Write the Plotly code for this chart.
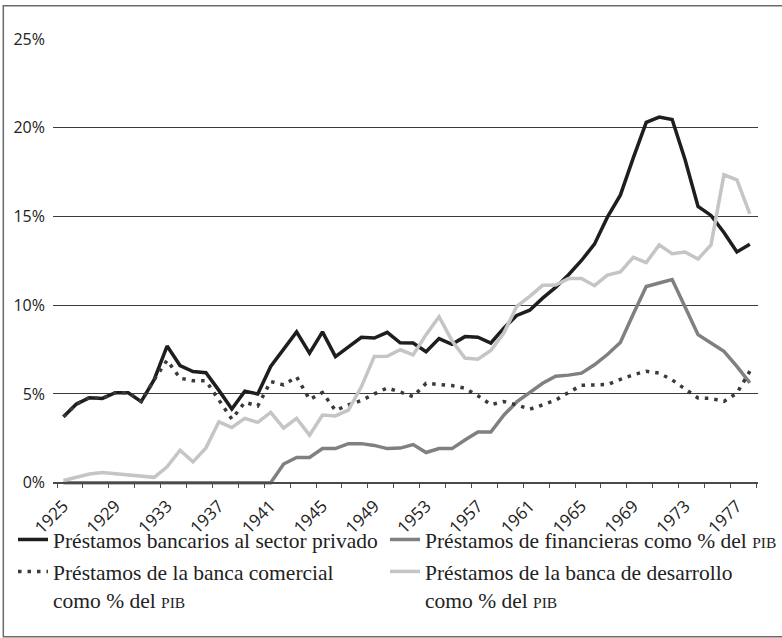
import plotly.graph_objects as go

years = list(range(1925, 1979))

privado = [3.72, 4.43, 4.79, 4.75, 5.07, 5.07, 4.57, 5.8, 7.7, 6.6,
           6.26, 6.2, 5.2, 4.15, 5.15, 5.0, 6.55, 7.55, 8.5, 7.3,
           8.5, 7.1, 7.64, 8.19, 8.15, 8.47, 7.88, 7.87, 7.38, 8.12,
           7.8, 8.23, 8.2, 7.87, 8.71, 9.42, 9.72, 10.4, 11.0, 11.72,
           12.52, 13.44, 14.96, 16.2, 18.3, 20.3, 20.6, 20.46, 18.2, 15.57,
           15.06, 14.1, 13.0, 13.43]

financieras = [0, 0, 0, 0, 0, 0, 0, 0, 0, 0,
               0, 0, 0, 0, 0, 0, 0, 1.05, 1.42, 1.42,
               1.92, 1.92, 2.2, 2.2, 2.1, 1.92, 1.95, 2.15, 1.7, 1.92,
               1.92, 2.4, 2.85, 2.85, 3.8, 4.55, 5.1, 5.6, 6.0, 6.06,
               6.17, 6.64, 7.22, 7.9, 9.5, 11.05, 11.25, 11.45, 9.9, 8.34,
               7.87, 7.4, 6.55, 5.62]

comercial = [3.72, 4.43, 4.79, 4.75, 5.07, 5.07, 4.57, 5.8, 6.9, 5.89,
             5.74, 5.74, 4.66, 3.58, 4.53, 4.32, 5.7, 5.51, 5.96, 4.69,
             5.08, 4.07, 4.38, 4.63, 5.0, 5.34, 5.11, 4.85, 5.6, 5.53,
             5.47, 5.32, 4.9, 4.4, 4.57, 4.38, 4.14, 4.38, 4.65, 5.08,
             5.49, 5.51, 5.53, 5.82, 6.08, 6.28, 6.17, 5.79, 5.28, 4.77,
             4.75, 4.58, 5.04, 6.28]

desarrollo = [0.12, 0.32, 0.49, 0.57, 0.51, 0.45, 0.38, 0.3, 0.89, 1.83,
              1.17, 1.96, 3.43, 3.11, 3.62, 3.4, 3.96, 3.08, 3.62, 2.68,
              3.81, 3.76, 4.09, 5.4, 7.11, 7.12, 7.49, 7.2, 8.34, 9.35,
              8.0, 7.02, 6.96, 7.45, 8.43, 9.94, 10.5, 11.12, 11.14, 11.5,
              11.5, 11.1, 11.7, 11.88, 12.7, 12.4, 13.4, 12.9, 13.0, 12.6,
              13.4, 17.35, 17.06, 15.15]

y_ticks = [0, 5, 10, 15, 20, 25]
y_labels = ["0%", "5%", "10%", "15%", "20%", "25%"]
x_tickvals = list(range(1925, 1978, 4))

PIB = '<span style="font-size:15.5px">PIB</span>'
names = {
    "privado": "Préstamos bancarios al sector privado",
    "financieras": "Préstamos de financieras como % del " + PIB,
    "comercial": "Préstamos de la banca comercial<br>como % del " + PIB,
    "desarrollo": "Préstamos de la banca de desarrollo<br>como % del " + PIB,
}

fig = go.Figure()
fig.add_trace(go.Scatter(x=years, y=privado, mode="lines", name=names["privado"],
                         line=dict(color="#1e1e1e", width=3.5),
                         legend="legend", legendgroup="a"))
fig.add_trace(go.Scatter(x=years, y=financieras, mode="lines", name=names["financieras"],
                         line=dict(color="#808080", width=3.5),
                         legend="legend2", legendgroup="c"))
fig.add_trace(go.Scatter(x=years, y=comercial, mode="lines", name=names["comercial"],
                         line=dict(color="#3a3a3a", width=3.5, dash="3.5px,6px"),
                         legend="legend", legendgroup="b"))
fig.add_trace(go.Scatter(x=years, y=desarrollo, mode="lines", name=names["desarrollo"],
                         line=dict(color="#c5c5c5", width=3.5),
                         legend="legend2", legendgroup="d"))

L, R, T, B = 53, 24, 39, 150
W, HGT = 782, 638
H_PLOT = HGT - T - B
W_PLOT = W - L - R
BOTTOM = HGT - B

def ypaper(py):
    return (BOTTOM - py) / H_PLOT

def xpaper(px):
    return (px - L) / W_PLOT

legend_font = dict(family="Liberation Serif", size=21.5, color="#222222")
legend_common = dict(orientation="v", xanchor="left", yanchor="top",
                     font=legend_font, bgcolor="rgba(0,0,0,0)",
                     traceorder="grouped", tracegroupgap=1, valign="top")

fig.update_layout(
    template="none",
    width=W, height=HGT,
    margin=dict(l=L, r=R, t=T, b=B, pad=0, autoexpand=False),
    paper_bgcolor="white", plot_bgcolor="white",
    showlegend=True,
    legend=dict(x=xpaper(13), y=ypaper(519), **legend_common),
    legend2=dict(x=xpaper(385), y=ypaper(519), **legend_common),
    xaxis=dict(
        range=[1924.19, 1978.63], automargin=False,
        tickvals=x_tickvals, ticktext=[str(v) for v in x_tickvals],
        tickangle=-45, ticks="", showgrid=False, zeroline=False,
        showline=True, linecolor="#4a4a4a", linewidth=1.5,
        anchor="free", position=0.3 / 25.3,
        tickfont=dict(family="Open Sans", size=17, color="#222222"),
        ticklabelstandoff=6,
        minor=dict(tick0=1924.5, dtick=2, ticks="outside", ticklen=5,
                   tickcolor="#4a4a4a", tickwidth=1.2, showgrid=False),
    ),
    yaxis=dict(
        range=[-0.3, 25], tickvals=y_ticks, ticktext=y_labels, automargin=False,
        showgrid=True, gridcolor="#3c3c3c", gridwidth=1,
        zeroline=False, showline=False, ticks="",
        tickfont=dict(family="Open Sans", size=16, color="#222222"),
        ticklabelstandoff=7,
    ),
    shapes=[dict(type="rect", xref="paper", yref="paper",
                 x0=xpaper(3.3), x1=xpaper(784), y0=ypaper(636.7), y1=ypaper(5.7),
                 line=dict(color="#6a6a6a", width=1.5), layer="below")],
)

fig.write_html("out.html", config={"displayModeBar": False},
               post_script="document.body.style.margin='0px';document.body.style.overflow='hidden';")
